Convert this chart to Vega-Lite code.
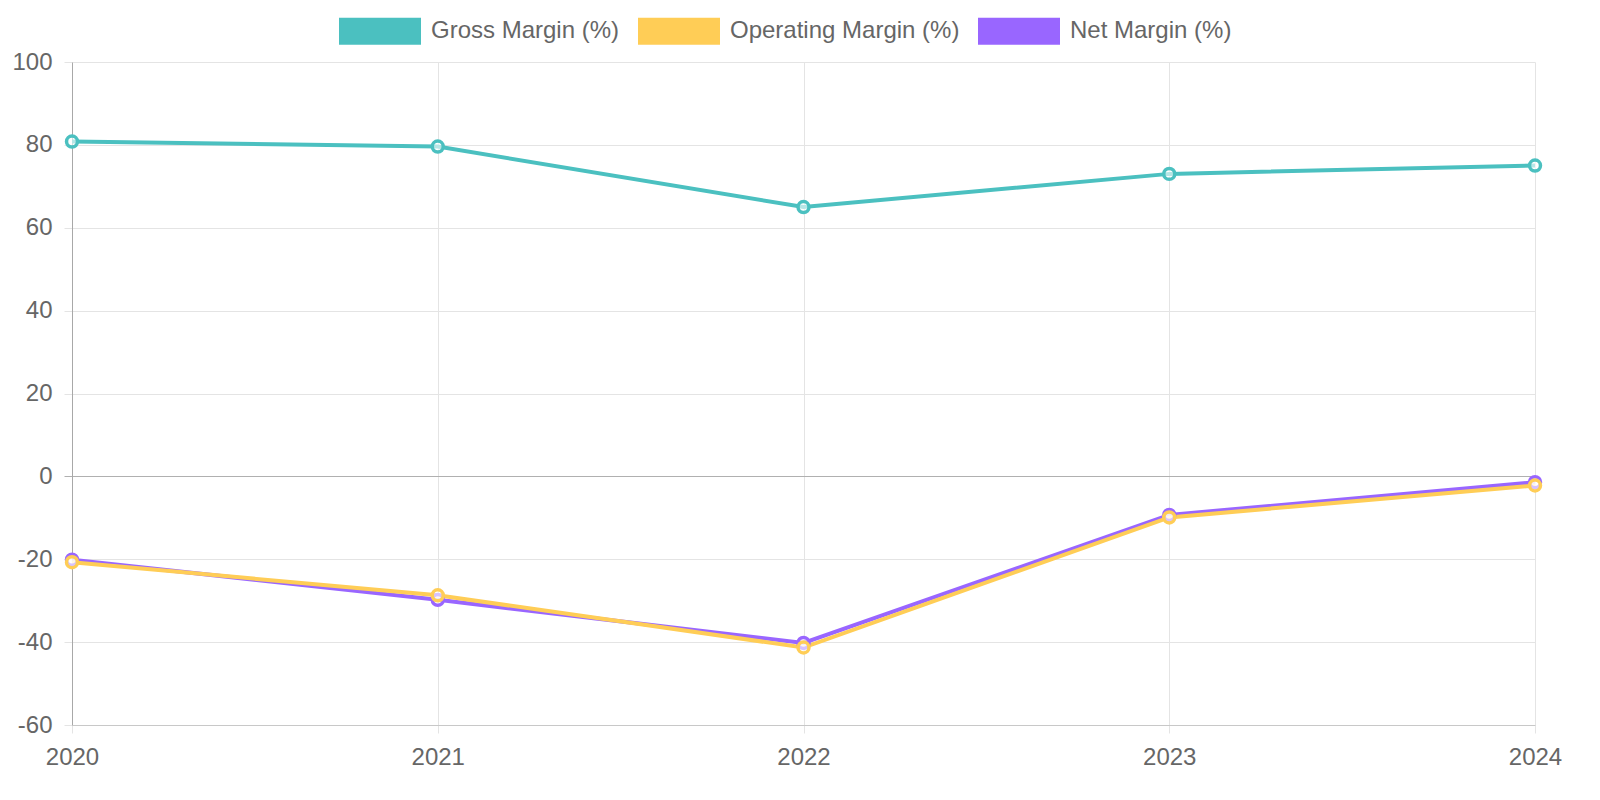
{
  "$schema": "https://vega.github.io/schema/vega-lite/v6.json",
  "width": 1463,
  "height": 663,
  "autosize": {"type": "none"},
  "padding": {"left": 72, "top": 62, "right": 65, "bottom": 75},
  "background": "white",
  "config": {
    "view": {"stroke": null},
    "font": "Liberation Sans",
    "axis": {"labelFont": "Liberation Sans", "labelFontSize": 24, "labelColor": "#666666", "title": null}
  },
  "data": {
    "values": [
      {"year": "2020", "series": "Net Margin (%)", "value": -20.1},
      {"year": "2021", "series": "Net Margin (%)", "value": -29.8},
      {"year": "2022", "series": "Net Margin (%)", "value": -40.2},
      {"year": "2023", "series": "Net Margin (%)", "value": -9.3},
      {"year": "2024", "series": "Net Margin (%)", "value": -1.4},
      {"year": "2020", "series": "Operating Margin (%)", "value": -20.7},
      {"year": "2021", "series": "Operating Margin (%)", "value": -28.7},
      {"year": "2022", "series": "Operating Margin (%)", "value": -41.3},
      {"year": "2023", "series": "Operating Margin (%)", "value": -9.9},
      {"year": "2024", "series": "Operating Margin (%)", "value": -2.2},
      {"year": "2020", "series": "Gross Margin (%)", "value": 80.8},
      {"year": "2021", "series": "Gross Margin (%)", "value": 79.6},
      {"year": "2022", "series": "Gross Margin (%)", "value": 65.0},
      {"year": "2023", "series": "Gross Margin (%)", "value": 73.0},
      {"year": "2024", "series": "Gross Margin (%)", "value": 75.0}
    ]
  },
  "encoding": {
    "x": {
      "field": "year", "type": "ordinal",
      "scale": {"type": "point", "padding": 0},
      "axis": {
        "labelAngle": 0, "labelPadding": 12, "tickSize": 8,
        "grid": true, "gridColor": "#e4e4e4", "gridWidth": 1,
        "tickColor": "#e4e4e4", "domainColor": "#c8c8c8", "domainWidth": 1
      }
    },
    "y": {
      "field": "value", "type": "quantitative",
      "scale": {"domain": [-60, 100], "nice": false, "zero": false},
      "axis": {
        "values": [-60, -40, -20, 0, 20, 40, 60, 80, 100],
        "labelExpr": "toString(datum.value)",
        "labelPadding": 12, "tickSize": 8,
        "grid": true,
        "gridColor": {"condition": {"test": "datum.value === 0", "value": "#b0b0b0"}, "value": "#e4e4e4"},
        "tickColor": {"condition": {"test": "datum.value === 0", "value": "#b0b0b0"}, "value": "#e4e4e4"},
        "domainColor": "#a8a8a8", "domainWidth": 1
      }
    },
    "color": {
      "field": "series", "type": "nominal",
      "scale": {
        "domain": ["Gross Margin (%)", "Operating Margin (%)", "Net Margin (%)"],
        "range": ["#4BC0C0", "#FFCD56", "#9966FF"]
      },
      "legend": {
        "orient": "none", "legendX": 267, "legendY": -72, "direction": "horizontal",
        "title": null, "padding": 0,
        "symbolType": "M-1,-0.33H1V0.33H-1Z", "symbolSize": 6724,
        "symbolStrokeWidth": 0, "symbolOpacity": 1,
        "labelFontSize": 24, "labelColor": "#666666", "labelFont": "Liberation Sans",
        "labelOffset": 10, "columnPadding": 18, "labelLimit": 400,
        "encode": {
          "symbols": {
            "update": {
              "fill": {"scale": "color", "field": "value"},
              "fillOpacity": {"value": 1},
              "strokeWidth": {"value": 0}
            }
          }
        }
      }
    },
    "order": {"field": "year"}
  },
  "layer": [
    {"mark": {"type": "line", "strokeWidth": 4}},
    {"mark": {"type": "point", "filled": false, "fill": "white", "fillOpacity": 0.6, "strokeWidth": 3.5, "size": 120, "opacity": 1}}
  ]
}
